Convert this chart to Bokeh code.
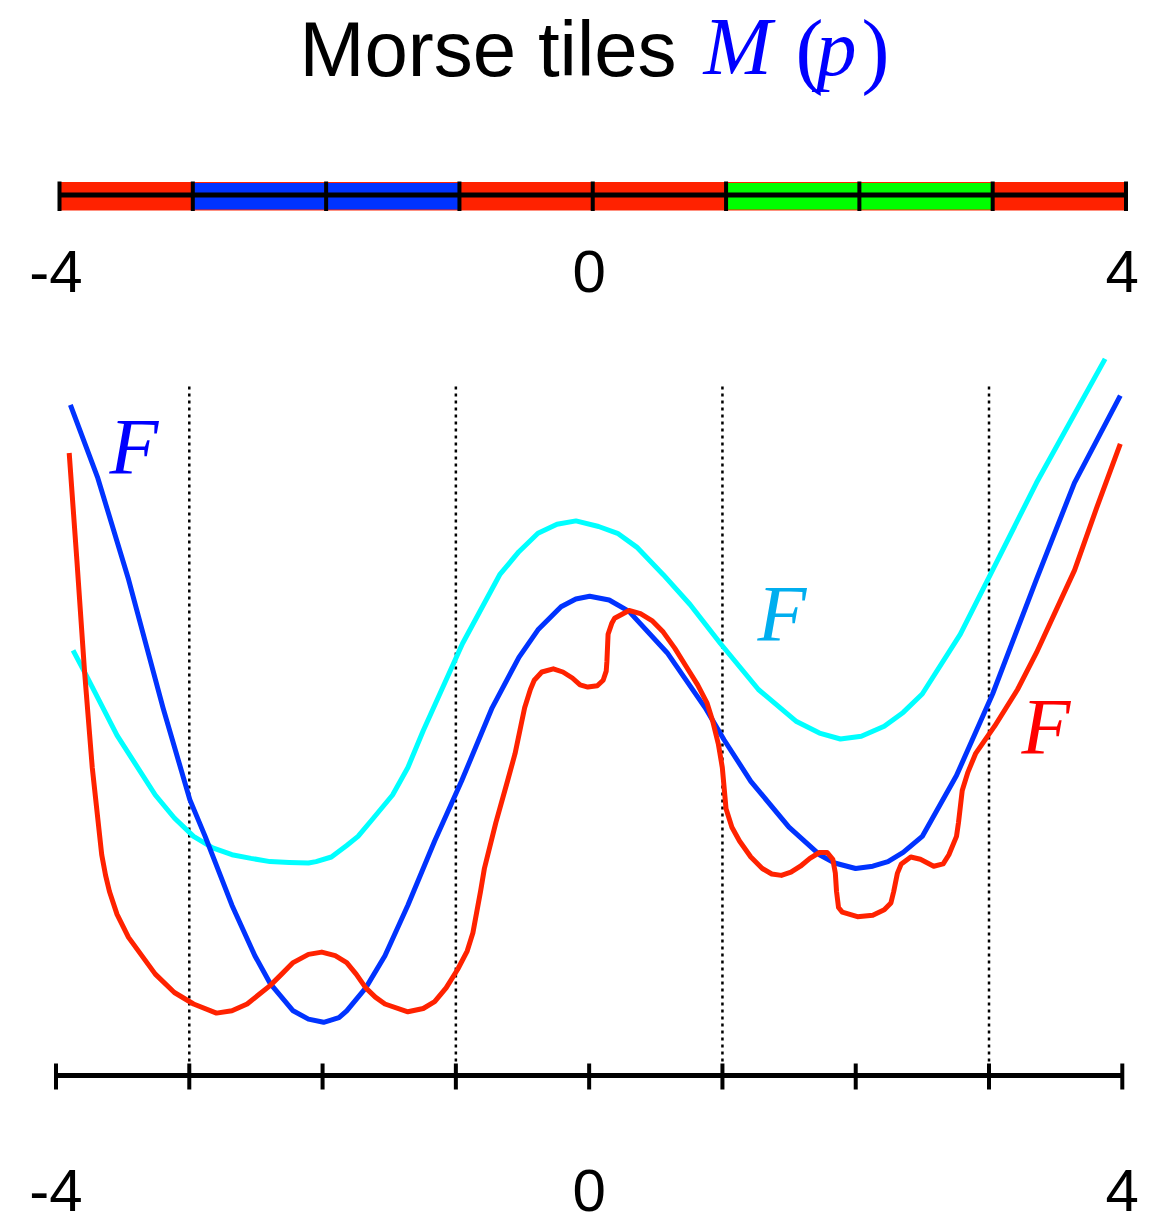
from bokeh.plotting import figure
from bokeh.models import Range1d
from bokeh.embed import file_html
from bokeh.resources import INLINE
from bokeh.core.properties import value

# ---------------- data ----------------
tile_left = [-4, -3, -1, 1, 3]
tile_right = [-3, -1, 1, 3, 4]
tile_color = ["#FF2200", "#0033FF", "#FF2200", "#00FF00", "#FF2200"]
tick_vals = [-4, -3, -2, -1, 0, 1, 2, 3, 4]
label_vals = [-4, 0, 4]
label_text = ["-4", "0", "4"]
boundary_vals = [-3, -1, 1, 3]

blue_x = [-3.892, -3.686, -3.456, -3.197, -2.996, -2.881, -2.680, -2.508, -2.394, -2.221,
          -2.106, -1.992, -1.877, -1.819, -1.676, -1.532, -1.360, -1.159, -0.958, -0.728,
          -0.527, -0.384, -0.211, -0.100, 0.004, 0.150, 0.299, 0.585, 0.871, 1.013,
          1.213, 1.499, 1.728, 1.842, 1.999, 2.128, 2.242, 2.356, 2.499, 2.756,
          3.027, 3.356, 3.641, 3.985]
blue_y = [6.707, 5.973, 4.962, 3.677, 2.759, 2.391, 1.703, 1.198, 0.922, 0.647,
          0.564, 0.532, 0.578, 0.647, 0.876, 1.198, 1.703, 2.345, 2.942, 3.677,
          4.182, 4.457, 4.687, 4.765, 4.793, 4.755, 4.641, 4.228, 3.677, 3.355,
          2.942, 2.483, 2.208, 2.125, 2.070, 2.093, 2.139, 2.231, 2.391, 3.000,
          3.815, 4.962, 5.927, 6.799]

cyan_x = [-3.872, -3.772, -3.542, -3.255, -3.112, -2.968, -2.824, -2.680, -2.537, -2.394,
          -2.250, -2.106, -2.049, -1.934, -1.819, -1.734, -1.618, -1.475, -1.360, -1.245,
          -0.950, -0.671, -0.527, -0.384, -0.241, -0.099, 0.071, 0.213, 0.357, 0.556,
          0.757, 0.985, 1.270, 1.556, 1.728, 1.885, 2.042, 2.214, 2.356, 2.499,
          2.784, 3.027, 3.356, 3.871]
cyan_y = [4.251, 3.998, 3.401, 2.805, 2.575, 2.391, 2.277, 2.208, 2.171, 2.139,
          2.130, 2.125, 2.139, 2.185, 2.300, 2.391, 2.575, 2.805, 3.080, 3.447,
          4.320, 5.008, 5.238, 5.422, 5.513, 5.546, 5.490, 5.422, 5.284, 5.008,
          4.710, 4.320, 3.860, 3.539, 3.424, 3.365, 3.392, 3.493, 3.631, 3.815,
          4.412, 5.054, 5.927, 7.166]

red_x = [-3.901, -3.843, -3.786, -3.728, -3.657, -3.628, -3.599, -3.542, -3.456, -3.255,
         -3.112, -2.968, -2.796, -2.680, -2.566, -2.480, -2.394, -2.307, -2.221, -2.106,
         -2.006, -1.905, -1.819, -1.748, -1.676, -1.604, -1.532, -1.360, -1.245, -1.159,
         -1.073, -0.987, -0.915, -0.872, -0.815, -0.786, -0.700, -0.613, -0.556, -0.513,
         -0.484, -0.441, -0.412, -0.355, -0.269, -0.197, -0.126, -0.068, -0.010, 0.061,
         0.105, 0.128, 0.133, 0.142, 0.171, 0.191, 0.299, 0.385, 0.471, 0.556,
         0.642, 0.728, 0.814, 0.885, 0.928, 0.970, 0.999, 1.027, 1.071, 1.128,
         1.213, 1.299, 1.370, 1.442, 1.514, 1.585, 1.656, 1.728, 1.785, 1.828,
         1.847, 1.856, 1.871, 1.899, 2.013, 2.128, 2.214, 2.264, 2.285, 2.313,
         2.342, 2.413, 2.485, 2.585, 2.656, 2.699, 2.756, 2.771, 2.799, 2.842,
         2.899, 3.042, 3.214, 3.356, 3.499, 3.642, 3.813, 3.985]
red_y = [6.225, 5.146, 4.044, 3.080, 2.208, 2.001, 1.840, 1.611, 1.381, 1.014,
         0.830, 0.715, 0.624, 0.647, 0.715, 0.807, 0.899, 1.014, 1.129, 1.211,
         1.234, 1.198, 1.129, 1.014, 0.876, 0.784, 0.715, 0.637, 0.670, 0.738,
         0.876, 1.060, 1.244, 1.427, 1.840, 2.070, 2.529, 2.942, 3.218, 3.493,
         3.677, 3.861, 3.952, 4.035, 4.067, 4.035, 3.975, 3.906, 3.884, 3.897,
         3.952, 4.044, 4.136, 4.412, 4.526, 4.572, 4.650, 4.618, 4.549, 4.434,
         4.274, 4.090, 3.906, 3.723, 3.539, 3.310, 3.080, 2.667, 2.483, 2.345,
         2.185, 2.070, 2.015, 2.001, 2.033, 2.093, 2.171, 2.230, 2.231, 2.162,
         2.024, 1.840, 1.680, 1.634, 1.588, 1.602, 1.657, 1.726, 1.840, 2.024,
         2.116, 2.185, 2.162, 2.093, 2.116, 2.208, 2.391, 2.529, 2.850, 3.034,
         3.218, 3.493, 3.860, 4.228, 4.641, 5.054, 5.697, 6.317]

# ---------------- layout helpers ----------------
W, H = 1157, 1223
X0_PX, X1_PX = 55.5, 1121.8          # bottom scale: -4 and 4
SCALE = (X1_PX - X0_PX) / 8.0
B0_PX, B1_PX = 59.0, 1125.5          # tile bar scale: -4 and 4
BSCALE = (B1_PX - B0_PX) / 8.0
Y_BASE_PX = 1075.0
YS = 100.0
BASE_FIX = 0.375                      # baseline correction (fraction of font size)


def sx(px):
    return (px - X0_PX) / SCALE - 4


def sy(py):
    return (Y_BASE_PX - py) / YS


def ty(py, fs):
    """data y for a text whose baseline should sit at pixel row py"""
    return sy(py - BASE_FIX * fs)


p = figure(width=W, height=H,
           x_range=Range1d(sx(0), sx(W)), y_range=Range1d(sy(H), sy(0)),
           output_backend="svg", toolbar_location=None,
           x_axis_location=None, y_axis_location=None,
           min_border=0, outline_line_color=None)
p.grid.visible = False
p.extra_x_ranges = {"bar": Range1d(-4 - B0_PX / BSCALE, -4 + (W - B0_PX) / BSCALE)}

SANS = value("Liberation Sans")
SERIF = value("Liberation Serif")

# ---------------- title ----------------
p.text(x=sx(299), y=ty(78, 78), text=["Morse tiles"], text_font=SANS, text_font_size="78px",
       text_color="black", text_align="left", text_baseline="alphabetic")
p.text(x=sx(703), y=ty(77, 82), text=["M"], text_font=SERIF, text_font_style="italic",
       text_font_size="82px", text_color="#0000FF", text_align="left", text_baseline="alphabetic")
p.text(x=sx(795), y=ty(80, 84), text=["("], text_font=SERIF, text_font_size="84px",
       text_color="#0000FF", text_align="left", text_baseline="alphabetic")
p.text(x=sx(816), y=ty(77, 80), text=["p"], text_font=SERIF, text_font_style="italic",
       text_font_size="80px", text_color="#0000FF", text_align="left", text_baseline="alphabetic")
p.text(x=sx(861), y=ty(80, 84), text=[")"], text_font=SERIF, text_font_size="84px",
       text_color="#0000FF", text_align="left", text_baseline="alphabetic")

# ---------------- tile bar ----------------
p.quad(left=-4, right=4, bottom=sy(210), top=sy(181.5), fill_color="#FF2200",
       line_color=None, x_range_name="bar")
p.quad(left=tile_left, right=tile_right, bottom=sy(209), top=sy(182.5),
       fill_color=tile_color, line_color=None, x_range_name="bar")
p.segment(x0=-4, x1=4, y0=sy(194.5), y1=sy(194.5), line_width=5, line_color="black",
          x_range_name="bar")
p.segment(x0=tick_vals, x1=tick_vals, y0=sy(181), y1=sy(210.5), line_width=4,
          line_color="black", x_range_name="bar")

p.text(x=label_vals, y=ty(293, 60), text=label_text, text_font=SANS, text_font_size="60px",
       text_color="black", text_align="center", text_baseline="alphabetic")

# ---------------- boundaries ----------------
p.segment(x0=boundary_vals, x1=boundary_vals, y0=0, y1=sy(384), line_width=2.5,
          line_color="black", line_dash="3 4")

# ---------------- curves ----------------
p.line(cyan_x, cyan_y, line_width=5, line_color="#00FFFF", line_join="round", line_cap="butt")
p.line(blue_x, blue_y, line_width=5, line_color="#0033FF", line_join="round", line_cap="butt")
p.line(red_x, red_y, line_width=5, line_color="#FF2200", line_join="round", line_cap="butt")

p.text(x=sx(109), y=ty(476, 80), text=["F"], text_font=SERIF, text_font_style="italic",
       text_font_size="80px", text_color="#0000FF", text_align="left", text_baseline="alphabetic")
p.text(x=sx(757), y=ty(643, 80), text=["F"], text_font=SERIF, text_font_style="italic",
       text_font_size="80px", text_color="#00AEEF", text_align="left", text_baseline="alphabetic")
p.text(x=sx(1021), y=ty(756, 80), text=["F"], text_font=SERIF, text_font_style="italic",
       text_font_size="80px", text_color="#FF0000", text_align="left", text_baseline="alphabetic")

# ---------------- bottom axis ----------------
p.segment(x0=-4, x1=4, y0=0, y1=0, line_width=5, line_color="black", line_cap="butt")
p.segment(x0=tick_vals, x1=tick_vals, y0=sy(1063), y1=sy(1089), line_width=4,
          line_color="black")
p.text(x=label_vals, y=ty(1212, 60), text=label_text, text_font=SANS, text_font_size="60px",
       text_color="black", text_align="center", text_baseline="alphabetic")

open("out.html", "w").write(file_html(p, INLINE))
